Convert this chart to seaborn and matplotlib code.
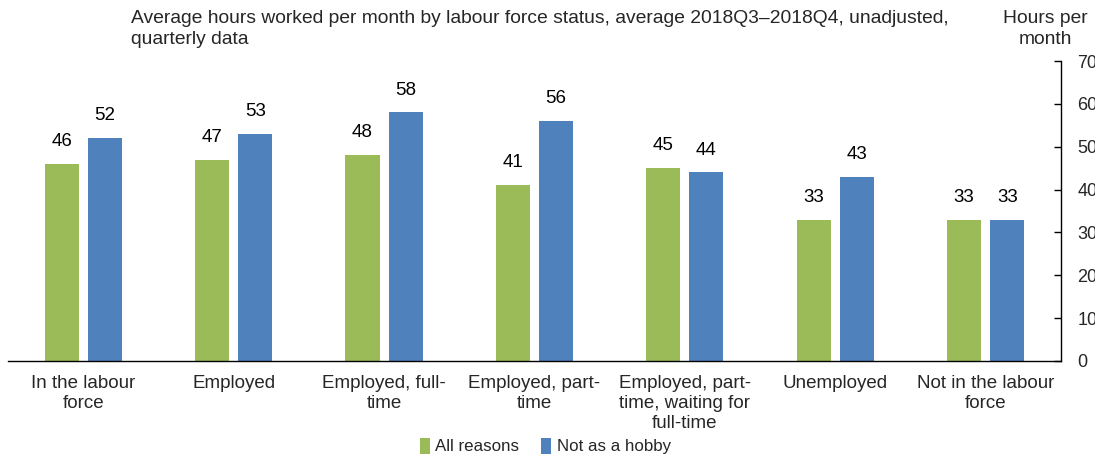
import pandas as pd
import numpy as np
import matplotlib
matplotlib.use('Agg')
import matplotlib.pyplot as plt
import seaborn as sns
from matplotlib.patches import Patch

# Chart data
categories = ['In the labour\nforce', 'Employed', 'Employed, full-\ntime',
              'Employed, part-\ntime', 'Employed, part-\ntime, waiting for\nfull-time',
              'Unemployed', 'Not in the labour\nforce']
all_reasons = [46, 47, 48, 41, 45, 33, 33]
not_hobby = [52, 53, 58, 56, 44, 43, 33]
series_names = ['All reasons', 'Not as a hobby']
y_ticks = [0, 10, 20, 30, 40, 50, 60, 70]

GREEN = '#9BBB59'
BLUE = '#4F81BD'

sns.set_theme(style='white')
plt.rcParams['font.family'] = ['Liberation Sans', 'DejaVu Sans']

df = pd.DataFrame({
    'status': categories * 2,
    'hours': all_reasons + not_hobby,
    'series': [series_names[0]] * len(categories) + [series_names[1]] * len(categories),
})

fig = plt.figure(figsize=(10.95, 4.65), dpi=100)
ax = fig.add_axes([0.0073, 0.2237, 0.9616, 0.6451])

sns.barplot(data=df, x='status', y='hours', hue='series', palette=[GREEN, BLUE],
            saturation=1, width=0.573, gap=0.21, legend=False, linewidth=0, ax=ax)

# value labels above bars
for cont in ax.containers:
    ax.bar_label(cont, fmt='%d', padding=10, fontsize=13.5, color='black')

ax.set_xlim(-0.5, len(categories) - 0.5)
ax.set_ylim(0, 70)
ax.set_xlabel('')
ax.set_ylabel('')

# y axis on the right (labels run off the right edge, as in the source)
ax.yaxis.tick_right()
ax.set_yticks(y_ticks)
ax.tick_params(axis='y', direction='in', length=5, width=1, color='black',
               labelsize=13, pad=12, right=True, left=False)

# x: boundary ticks (major, no labels), category labels as minor ticks
ax.set_xticks(np.arange(-0.5, len(categories), 1.0))
ax.set_xticklabels([])
ax.set_xticks(np.arange(len(categories)), minor=True)
ax.set_xticklabels(categories, minor=True, fontsize=13.5, linespacing=1.22)
ax.tick_params(axis='x', which='major', direction='in', length=5, width=1, color='black')
ax.tick_params(axis='x', which='minor', length=0, pad=10)

for side in ['left', 'top']:
    ax.spines[side].set_visible(False)
for side in ['bottom', 'right']:
    ax.spines[side].set_visible(True)
    ax.spines[side].set_color('black')
    ax.spines[side].set_linewidth(1)
ax.grid(False)

# subtitle and unit label
fig.text(0.120, 0.978, 'Average hours worked per month by labour force status, average 2018Q3\u20132018Q4, unadjusted,\nquarterly data',
         fontsize=13.9, ha='left', va='top', linespacing=1.3)
fig.text(0.955, 0.978, 'Hours per\nmonth', fontsize=13.9, ha='center', va='top', linespacing=1.3)

handles = [Patch(facecolor=GREEN, edgecolor='none'), Patch(facecolor=BLUE, edgecolor='none')]
fig.legend(handles, series_names, loc='lower center', bbox_to_anchor=(0.498, -0.01), ncol=2,
           frameon=False, fontsize=12.2, handlelength=0.6, handleheight=1.1,
           handletextpad=0.3, columnspacing=1.3)

fig.savefig('out.png', dpi=100)
